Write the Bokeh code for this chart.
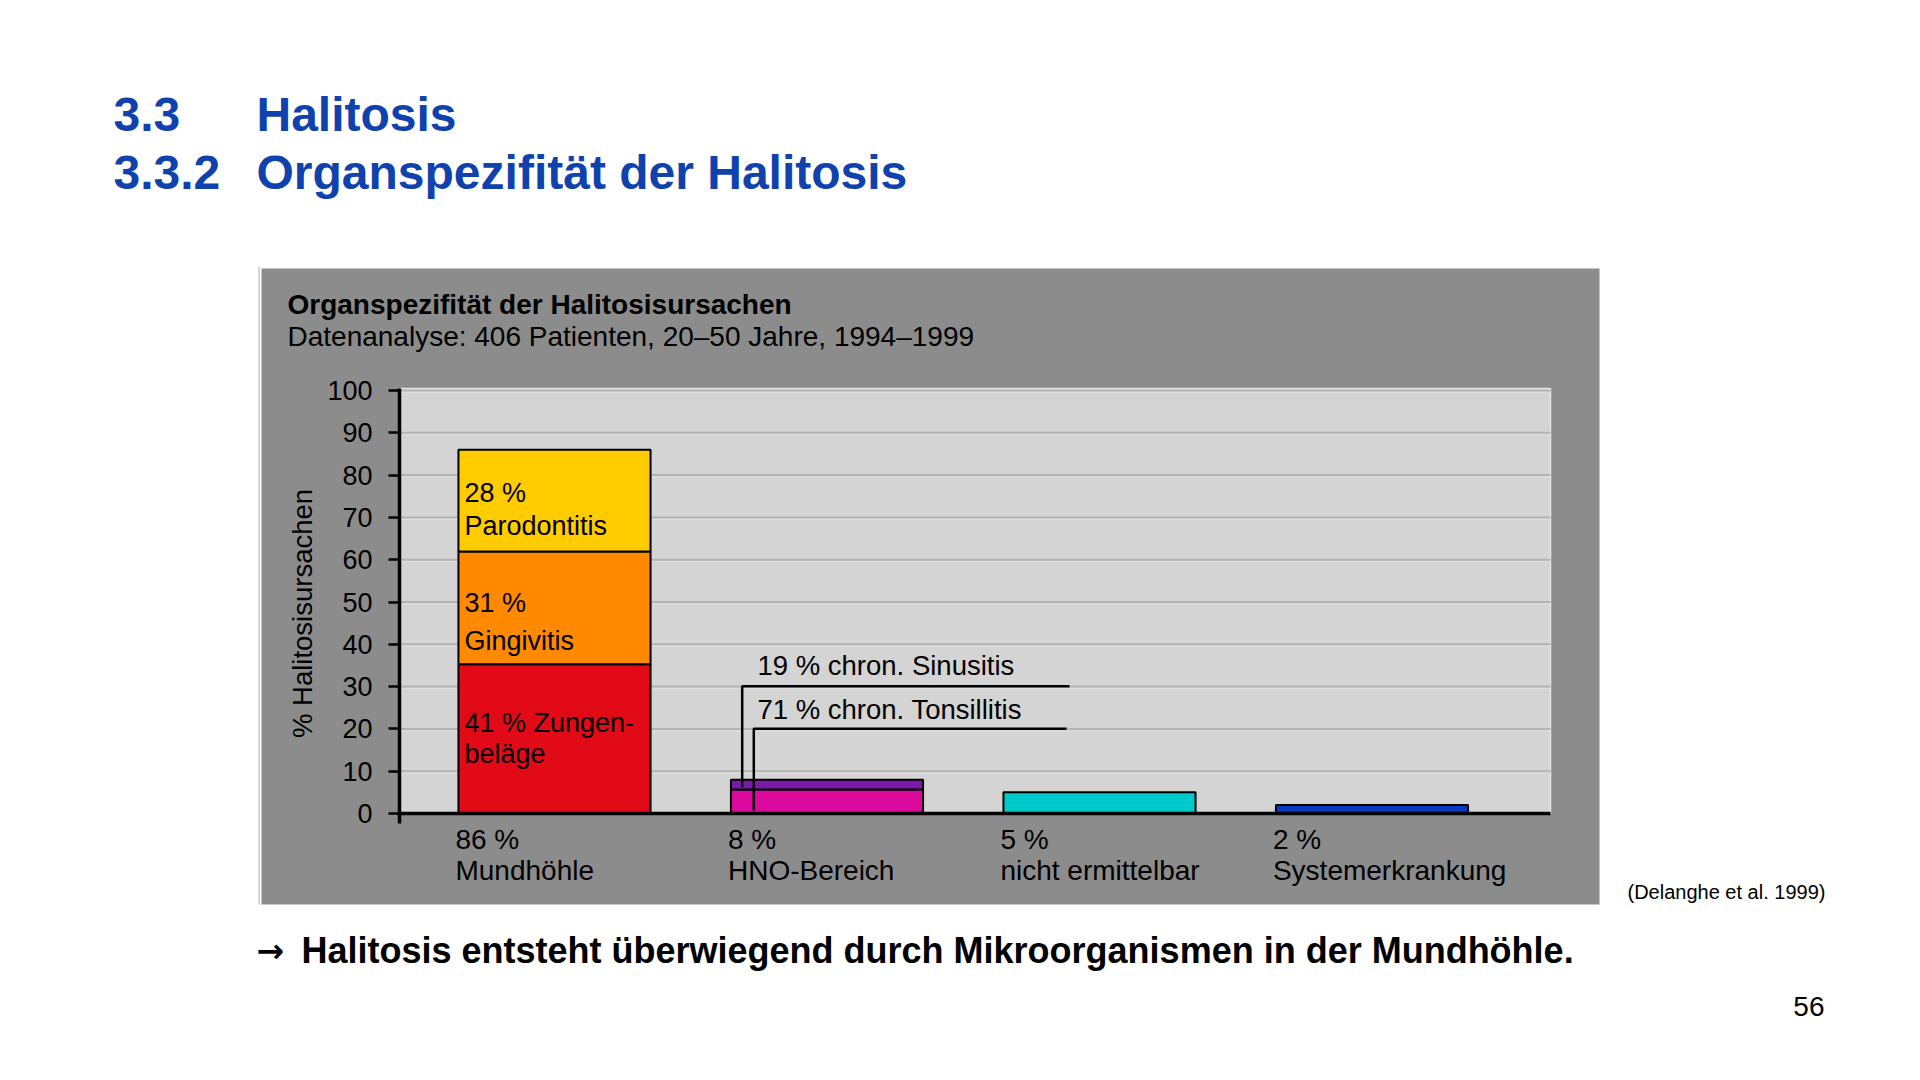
from bokeh.plotting import figure
from bokeh.models import Range1d, LinearAxis, FixedTicker, Label, ColumnDataSource
from bokeh.core.properties import value
from bokeh.embed import file_html
from bokeh.resources import INLINE

# ---------------- data ----------------
categories = ["Mundhöhle", "HNO-Bereich", "nicht ermittelbar", "Systemerkrankung"]
category_pct = [86, 8, 5, 2]
category_colors = [None, None, "#00c9c9", "#0a37c4"]

mund_causes = ["Zungenbeläge", "Gingivitis", "Parodontitis"]
mund_cause_pct = [41, 31, 28]          # share of the 86 %
mund_colors = ["#e20a17", "#ff8a00", "#ffcc00"]
mund_label_lines = [["41 % Zungen-", "beläge"], ["31 %", "Gingivitis"], ["28 %", "Parodontitis"]]

hno_causes = ["chron. Tonsillitis", "chron. Sinusitis"]
hno_cause_pct = [71, 19]
hno_segment_values = [5.7, 2.3]        # bar segment heights
hno_colors = ["#db0a9c", "#7a1aa8"]

y_ticks = [0, 10, 20, 30, 40, 50, 60, 70, 80, 90, 100]

chart_title = "Organspezifität der Halitosisursachen"
chart_subtitle = "Datenanalyse: 406 Patienten, 20–50 Jahre, 1994–1999"
y_label = "% Halitosisursachen"

# ---------------- layout helpers (page pixel -> data) ----------------
W, H = 1904, 1064
OFF = 0                      # canvas origin on the page
PX0, PXU = 554.0, 272.5      # x pixel of category 0, pixels per category
PY0, PYU = 813.0, 4.23       # y pixel of value 0, pixels per unit

def X(px):
    return (px - PX0) / PXU

def Y(py):
    return (PY0 - py) / PYU

FONT = "Liberation Sans"
BLUE = "#0f42ad"

p = figure(width=W, height=H, output_backend="svg", toolbar_location=None,
           x_axis_type=None, y_axis_type=None,
           x_range=Range1d(X(OFF), X(OFF + W)), y_range=Range1d(Y(OFF + H), Y(OFF)),
           min_border=0, outline_line_color=None,
           background_fill_color="white", border_fill_color="white")
p.grid.visible = False

# grey chart panel and plot area
p.line(x=[X(258.5), X(258.5)], y=[Y(266), Y(904)], line_color="#d6d6d6", line_width=2)
p.quad(left=X(261), right=X(1599), bottom=Y(904), top=Y(268),
       fill_color="#8c8c8c", line_color=None)
p.quad(left=X(400), right=X(1550), bottom=0, top=Y(388),
       fill_color="#d4d4d4", line_color="#e4e4e4", line_width=1.5)

# horizontal grid lines
gl = y_ticks[1:]
p.segment(x0=[X(400)] * len(gl), x1=[X(1550)] * len(gl), y0=gl, y1=gl,
          line_color="#b3b3b3", line_width=2)
p.segment(x0=[X(400)] * len(gl), x1=[X(1550)] * len(gl),
          y0=[v - 0.45 for v in gl], y1=[v - 0.45 for v in gl],
          line_color="#e0e0e0", line_width=1)

BW = 0.705

# Mundhöhle stacked bar
mund_heights = [category_pct[0] * v / 100 for v in mund_cause_pct]
bottoms, tops = [], []
acc = 0
for h in mund_heights:
    bottoms.append(acc)
    acc += h
    tops.append(acc)
p.vbar(x=[0] * 3, width=BW, bottom=bottoms, top=tops, fill_color=mund_colors,
       line_color="black", line_width=2)

# HNO stacked bar
hb, ht = [], []
acc = 0
for h in hno_segment_values:
    hb.append(acc)
    acc += h
    ht.append(acc)
p.vbar(x=[1] * 2, width=BW, bottom=hb, top=ht, fill_color=hno_colors,
       line_color="black", line_width=2)

# remaining single bars
p.vbar(x=[2, 3], width=BW, bottom=0, top=category_pct[2:], fill_color=category_colors[2:],
       line_color="black", line_width=2)

# axes
yaxis = LinearAxis(fixed_location=X(399), ticker=FixedTicker(ticks=y_ticks),
                   bounds=(Y(823), Y(388)))
yaxis.axis_line_width = 3.5
yaxis.axis_line_color = "black"
yaxis.major_tick_out = 11
yaxis.major_tick_in = 0
yaxis.major_tick_line_width = 2.5
yaxis.minor_tick_line_color = None
yaxis.major_label_text_font = FONT
yaxis.major_label_text_font_size = "27px"
yaxis.major_label_text_color = "black"
yaxis.major_label_standoff = 16
p.add_layout(yaxis, "left")

xaxis = LinearAxis(fixed_location=0, ticker=FixedTicker(ticks=[]),
                   bounds=(X(397), X(1550)))
xaxis.axis_line_width = 3.5
xaxis.axis_line_color = "black"
xaxis.major_tick_line_color = None
xaxis.minor_tick_line_color = None
xaxis.major_label_text_font_size = "0px"
p.add_layout(xaxis, "below")

# category labels under the bars (left-aligned with the bar's left edge)
cat_src = ColumnDataSource(dict(
    x=[i - BW / 2 - 3 / PXU for i in range(len(categories))],
    pct=[f"{v} %" for v in category_pct],
    name=categories,
))
p.text(x="x", y=Y(839), text="pct", source=cat_src, text_font=value(FONT),
       text_font_size="28px", text_color="black", text_baseline="middle")
p.text(x="x", y=Y(869.5), text="name", source=cat_src, text_font=value(FONT),
       text_font_size="28px", text_color="black", text_baseline="middle")


def lab(text, px, py, size, bold=False, color="black", align="left", angle=0.0, font=FONT):
    p.add_layout(Label(x=X(px), y=Y(py), text=text, text_font=font,
                       text_font_size=size, text_color=color,
                       text_font_style="bold" if bold else "normal",
                       text_align=align, text_baseline="middle", angle=angle))

# labels inside the Mundhöhle bar (vertical centres of the text lines)
seg_centres = [(722, 753), (602, 640), (492, 525.5)]
for lines, (c1, c2) in zip(mund_label_lines, seg_centres):
    lab(lines[0], 464, c1, "27px")
    lab(lines[1], 464, c2, "27px")

# HNO leader lines and texts
p.line(x=[X(741.7), X(741.7), X(1069)], y=[Y(786.7), Y(685.7), Y(685.7)],
       line_color="black", line_width=2.5)
p.line(x=[X(753.3), X(753.3), X(1066)], y=[Y(810), Y(728.3), Y(728.3)],
       line_color="black", line_width=2.5)
lab(f"{hno_cause_pct[1]} % {hno_causes[1]}", 757, 665, "27.5px")
lab(f"{hno_cause_pct[0]} % {hno_causes[0]}", 757, 708.5, "27.5px")

# chart title / subtitle / axis label
lab(chart_title, 287, 304, "28px", bold=True)
lab(chart_subtitle, 287, 336, "28px")
lab(y_label, 302, 613, "27.5px", angle=1.5708, align="center")

# slide texts
lab("3.3", 113, 114, "48px", bold=True, color=BLUE)
lab("Halitosis", 256, 114, "48px", bold=True, color=BLUE)
lab("3.3.2", 113, 171.5, "48px", bold=True, color=BLUE)
lab("Organspezifität der Halitosis", 256, 171.5, "48px", bold=True, color=BLUE)

lab("→", 256, 950, "33px", bold=True, font="DejaVu Sans")
lab("Halitosis entsteht überwiegend durch Mikroorganismen in der Mundhöhle.", 301, 950,
    "36px", bold=True)
lab("(Delanghe et al. 1999)", 1627, 891.5, "20px")
lab("56", 1824, 1005.5, "28px", align="right")

open("out.html", "w").write(file_html(p, INLINE))
